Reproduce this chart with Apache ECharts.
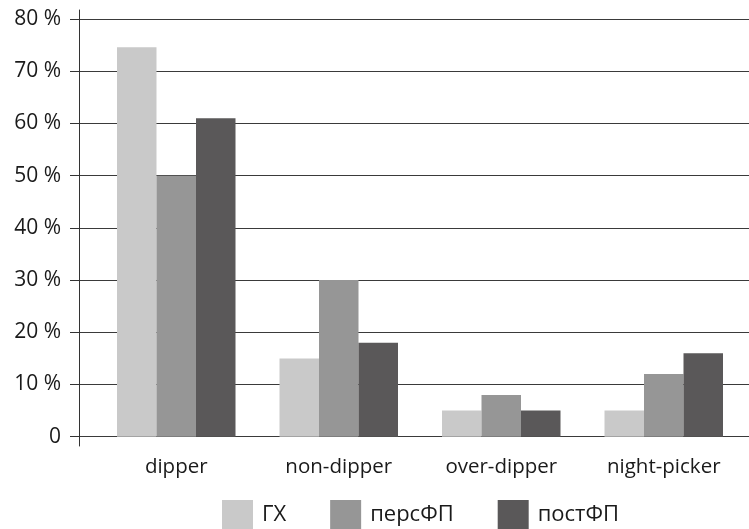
<!DOCTYPE html>
<html>
<head>
<meta charset="utf-8">
<script src="https://cdn.jsdelivr.net/npm/echarts@6/dist/echarts.min.js"></script>
<style>html,body{margin:0;padding:0;background:#fff;}#c{width:749px;height:529px;}</style>
</head>
<body>
<div id="c"></div>
<script>
const categories = ['dipper', 'non-dipper', 'over-dipper', 'night-picker'];
const seriesNames = ['ГХ', 'персФП', 'постФП'];
const valuesGX = [74.6, 15, 5, 5];
const valuesPers = [50, 30, 8, 12];
const valuesPost = [61, 18, 5, 16];
const yTicks = [0, 10, 20, 30, 40, 50, 60, 70, 80];

const colors = ['#c9c9c9', '#969696', '#5a5859'];
const font = 'Open Sans';
const textColor = '#1a1a1a';

const chart = echarts.init(document.getElementById('c'), null, {renderer: 'canvas'});
chart.setOption({
  animation: false,
  color: colors,
  grid: [
    {left: 79, right: 0, top: 10, bottom: 83},
    {left: 79, right: 0, top: 19, bottom: 92.3},
    {left: 95, right: 4, top: 19, bottom: 92.3}
  ],
  legend: {
    data: seriesNames,
    left: 222,
    top: 500,
    padding: 0,
    itemWidth: 31,
    itemHeight: 30,
    itemGap: 44,
    icon: 'rect',
    textStyle: {fontFamily: font, fontSize: 22, color: textColor, padding: [0, 0, 0, 4]}
  },
  xAxis: [
    {gridIndex: 0, type: 'category', data: categories, show: false},
    {gridIndex: 1, type: 'category', data: categories, show: false},
    {
      gridIndex: 2, type: 'category', data: categories,
      axisLine: {show: false}, axisTick: {show: false},
      axisLabel: {fontFamily: font, fontSize: 20.5, color: textColor, margin: 20}
    }
  ],
  yAxis: [
    {
      gridIndex: 0, type: 'value', min: 0, max: 1,
      axisLine: {show: true, lineStyle: {color: '#333', width: 1}},
      axisTick: {show: false}, axisLabel: {show: false}, splitLine: {show: false}
    },
    {
      gridIndex: 1, type: 'value', min: yTicks[0], max: yTicks[yTicks.length - 1], interval: 10,
      axisLine: {show: false},
      axisTick: {show: true, inside: false, length: 9, lineStyle: {color: '#333'}},
      splitLine: {show: true, lineStyle: {color: '#3a3a3a', width: 1}},
      axisLabel: {
        fontFamily: font, fontSize: 21, color: textColor, margin: 18,
        formatter: v => v === 0 ? '0' : v + ' %'
      }
    },
    {
      gridIndex: 2, type: 'value', min: yTicks[0], max: yTicks[yTicks.length - 1], interval: 10,
      show: false, splitLine: {show: false}
    }
  ],
  series: [
    {name: seriesNames[0], type: 'bar', xAxisIndex: 2, yAxisIndex: 2, data: valuesGX, barWidth: 39.5, barGap: '0%'},
    {name: seriesNames[1], type: 'bar', xAxisIndex: 2, yAxisIndex: 2, data: valuesPers, barWidth: 39.5, barGap: '0%'},
    {name: seriesNames[2], type: 'bar', xAxisIndex: 2, yAxisIndex: 2, data: valuesPost, barWidth: 39.5, barGap: '0%'}
  ]
});
</script>
</body>
</html>
